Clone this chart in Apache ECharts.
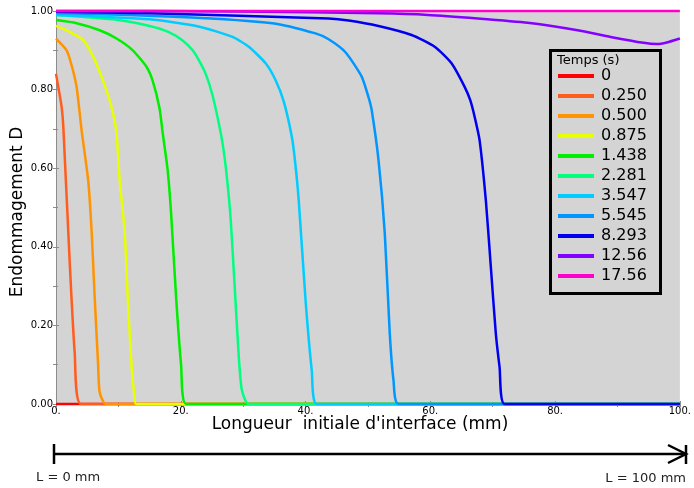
<!DOCTYPE html>
<html>
<head>
<meta charset="utf-8">
<script src="https://cdn.jsdelivr.net/npm/echarts@6/dist/echarts.min.js"></script>
<style>
  html, body { margin: 0; padding: 0; background: #fff; }
  #chart { width: 694px; height: 488px; }
</style>
</head>
<body>
<div id="chart"></div>
<script>
// Time steps (s) and their damage profiles D(x), x in mm along the interface
const times = ['0', '0.250', '0.500', '0.875', '1.438', '2.281', '3.547', '5.545', '8.293', '12.56', '17.56'];
const colors = ['#ff0000', '#ff5c1e', '#ff9400', '#e8ff00', '#00ee00', '#00ff80', '#00ccff', '#0096ff', '#0000ee', '#8400ff', '#ff00cc'];

const d_0 = [[0, 0], [100, 0]];
const d_0250 = [[0, 0.84], [0.9, 0.756], [1.2, 0.697], [2.2, 0.36], [3.0, 0.13], [4.0, 0], [100, 0]];
const d_0500 = [[0, 0.93], [1.7, 0.90], [2.5, 0.862], [3.3, 0.807], [4.1, 0.697], [5.15, 0.57], [5.7, 0.442],
  [6.2, 0.272], [6.75, 0.10], [7.0, 0.03], [8.0, 0], [100, 0]];
const d_0875 = [[0, 0.962], [2.2, 0.947], [4.35, 0.926], [5.95, 0.884], [7.5, 0.824], [8.9, 0.756], [9.7, 0.69],
  [10.2, 0.57], [11.0, 0.44], [11.5, 0.27], [12.1, 0.10], [12.5, 0.03], [12.9, 0], [100, 0]];
const d_1438 = [[0, 0.977], [3.3, 0.969], [7.0, 0.951], [9.7, 0.93], [12.3, 0.90], [14.5, 0.858], [15.5, 0.822],
  [16.6, 0.752], [17.1, 0.69], [17.9, 0.595], [18.45, 0.485], [19.25, 0.272], [20.05, 0.10], [20.85, 0], [100, 0]];
const d_2281 = [[0, 0.99], [9.7, 0.978], [15, 0.962], [18, 0.947], [20.3, 0.925], [21.9, 0.90], [23.0, 0.872],
  [24.0, 0.84], [25.1, 0.785], [26.4, 0.69], [27.0, 0.63], [27.5, 0.56], [28.0, 0.47], [28.6, 0.31], [29.3, 0.12],
  [29.8, 0.035], [30.9, 0], [100, 0]];
const d_3547 = [[0, 0.99], [15, 0.979], [23, 0.96], [28.3, 0.934], [30.9, 0.909], [33.6, 0.867], [35.2, 0.824],
  [36.5, 0.77], [37.8, 0.68], [38.3, 0.62], [38.9, 0.52], [40.0, 0.264], [41.0, 0.085], [41.8, 0], [100, 0]];
const d_5545 = [[0, 0.995], [20, 0.985], [34.7, 0.969], [41.6, 0.943], [43.7, 0.928], [46.4, 0.895], [49.0, 0.833],
  [50.1, 0.78], [50.6, 0.748], [51.7, 0.62], [52.7, 0.434], [53.5, 0.179], [54.1, 0.06], [54.9, 0], [100, 0]];
const d_8293 = [[0, 0.998], [15, 0.994], [43.7, 0.981], [46.9, 0.976], [51.7, 0.962], [57.0, 0.939], [60.7, 0.909],
  [63.4, 0.867], [65.5, 0.807], [66.4, 0.773], [67.1, 0.731], [67.9, 0.671], [68.9, 0.518], [69.7, 0.349],
  [70.5, 0.179], [71.1, 0.094], [71.9, 0], [100, 0]];
const d_1256 = [[0, 1.0], [30, 0.999], [51.7, 0.994], [59.6, 0.99], [67.6, 0.981], [75.6, 0.97], [83.6, 0.951],
  [88.9, 0.934], [94.2, 0.919], [96.3, 0.916], [97.9, 0.92], [100, 0.93]];
const d_1756 = [[0, 1], [100, 1]];

const profiles = [d_0, d_0250, d_0500, d_0875, d_1438, d_2281, d_3547, d_5545, d_8293, d_1256, d_1756];

const xTicks = [0, 20, 40, 60, 80, 100];
const yTicks = [0, 0.2, 0.4, 0.6, 0.8, 1.0];

const FONT = 'DejaVu Sans';
const chart = echarts.init(document.getElementById('chart'), null, { renderer: 'canvas' });

const axisGray = '#8c8c8c';

const option = {
  animation: false,
  color: colors,
  grid: {
    left: 56, right: 11, top: 11, bottom: 84,
    show: true, backgroundColor: '#d4d4d4', borderWidth: 0
  },
  xAxis: [
    {
      type: 'value', min: xTicks[0], max: xTicks[xTicks.length - 1], interval: xTicks[1] - xTicks[0],
      axisLine: { show: true, lineStyle: { color: axisGray } },
      axisTick: { show: true, inside: true, length: 3, lineStyle: { color: axisGray } },
      minorTick: { show: true, splitNumber: 2, length: 2, lineStyle: { color: axisGray } },
      splitLine: { show: false },
      axisLabel: { margin: 2, color: '#000', fontFamily: FONT, fontSize: 10, formatter: v => v + '.' }
    },
    {
      type: 'value', position: 'top', min: 0, max: 100, interval: 10,
      axisLine: { show: true, lineStyle: { color: axisGray } },
      axisTick: { show: true, inside: true, length: 3, lineStyle: { color: axisGray } },
      splitLine: { show: false }, axisLabel: { show: false }
    }
  ],
  yAxis: [
    {
      type: 'value', min: yTicks[0], max: yTicks[yTicks.length - 1], interval: 0.2,
      axisLine: { show: true, lineStyle: { color: axisGray } },
      axisTick: { show: true, inside: true, length: 3, lineStyle: { color: axisGray } },
      minorTick: { show: true, splitNumber: 2, length: 2, lineStyle: { color: axisGray } },
      splitLine: { show: false },
      axisLabel: { margin: 3, color: '#000', fontFamily: FONT, fontSize: 10, formatter: v => v.toFixed(2) }
    },
    {
      type: 'value', position: 'right', min: 0, max: 1, interval: 0.1,
      axisLine: { show: true, lineStyle: { color: axisGray } },
      axisTick: { show: true, inside: true, length: 3, lineStyle: { color: axisGray } },
      splitLine: { show: false }, axisLabel: { show: false }
    }
  ],
  legend: {
    data: times,
    orient: 'vertical',
    left: 558, top: 66,
    padding: 0,
    itemWidth: 36, itemHeight: 4, itemGap: 0,
    icon: 'rect',
    selectedMode: false,
    textStyle: { fontFamily: FONT, fontSize: 16, color: '#000', lineHeight: 20, padding: [0, 0, 0, 2] }
  },
  series: times.map((t, i) => ({
    name: t,
    type: 'line',
    xAxisIndex: 0, yAxisIndex: 0,
    data: profiles[i],
    symbol: 'none',
    smooth: 0.2,
    clip: false,
    lineStyle: { width: 2.5, color: colors[i] },
    itemStyle: { color: colors[i] },
    z: 2 + i
  })),
  graphic: [
    // legend frame and heading
    { type: 'rect', z: 50, shape: { x: 550.5, y: 50.5, width: 110, height: 243 },
      style: { fill: null, stroke: '#000', lineWidth: 3 } },
    { type: 'text', z: 51, x: 557, y: 61,
      style: { text: 'Temps (s)', font: '13px "DejaVu Sans"', fill: '#000', textVerticalAlign: 'middle' } },
    // axis titles
    { type: 'text', z: 51, x: 360, y: 425,
      style: { text: "Longueur  initiale d'interface (mm)", font: '17px "DejaVu Sans"', fill: '#000',
        textAlign: 'center', textVerticalAlign: 'middle' } },
    { type: 'text', z: 51, x: 18, y: 212, rotation: Math.PI / 2,
      style: { text: 'Endommagement D', font: '17px "DejaVu Sans"', fill: '#000',
        textAlign: 'center', textVerticalAlign: 'middle' } },
    // length scale arrow below the plot
    { type: 'line', shape: { x1: 54, y1: 454, x2: 686, y2: 454 }, style: { stroke: '#000', lineWidth: 2.5 } },
    { type: 'line', shape: { x1: 54, y1: 444, x2: 54, y2: 464 }, style: { stroke: '#000', lineWidth: 2.5 } },
    { type: 'line', shape: { x1: 686, y1: 445, x2: 686, y2: 464 }, style: { stroke: '#000', lineWidth: 2.5 } },
    { type: 'polyline', shape: { points: [[668, 445], [686, 454], [668, 463]] },
      style: { stroke: '#000', lineWidth: 2.5, fill: null } },
    { type: 'text', x: 36, y: 478,
      style: { text: 'L = 0 mm', font: '13px "DejaVu Sans"', fill: '#222', textVerticalAlign: 'middle' } },
    { type: 'text', x: 686, y: 479,
      style: { text: 'L = 100 mm', font: '13px "DejaVu Sans"', fill: '#222', textAlign: 'right', textVerticalAlign: 'middle' } }
  ]
};

chart.setOption(option);
</script>
</body>
</html>
